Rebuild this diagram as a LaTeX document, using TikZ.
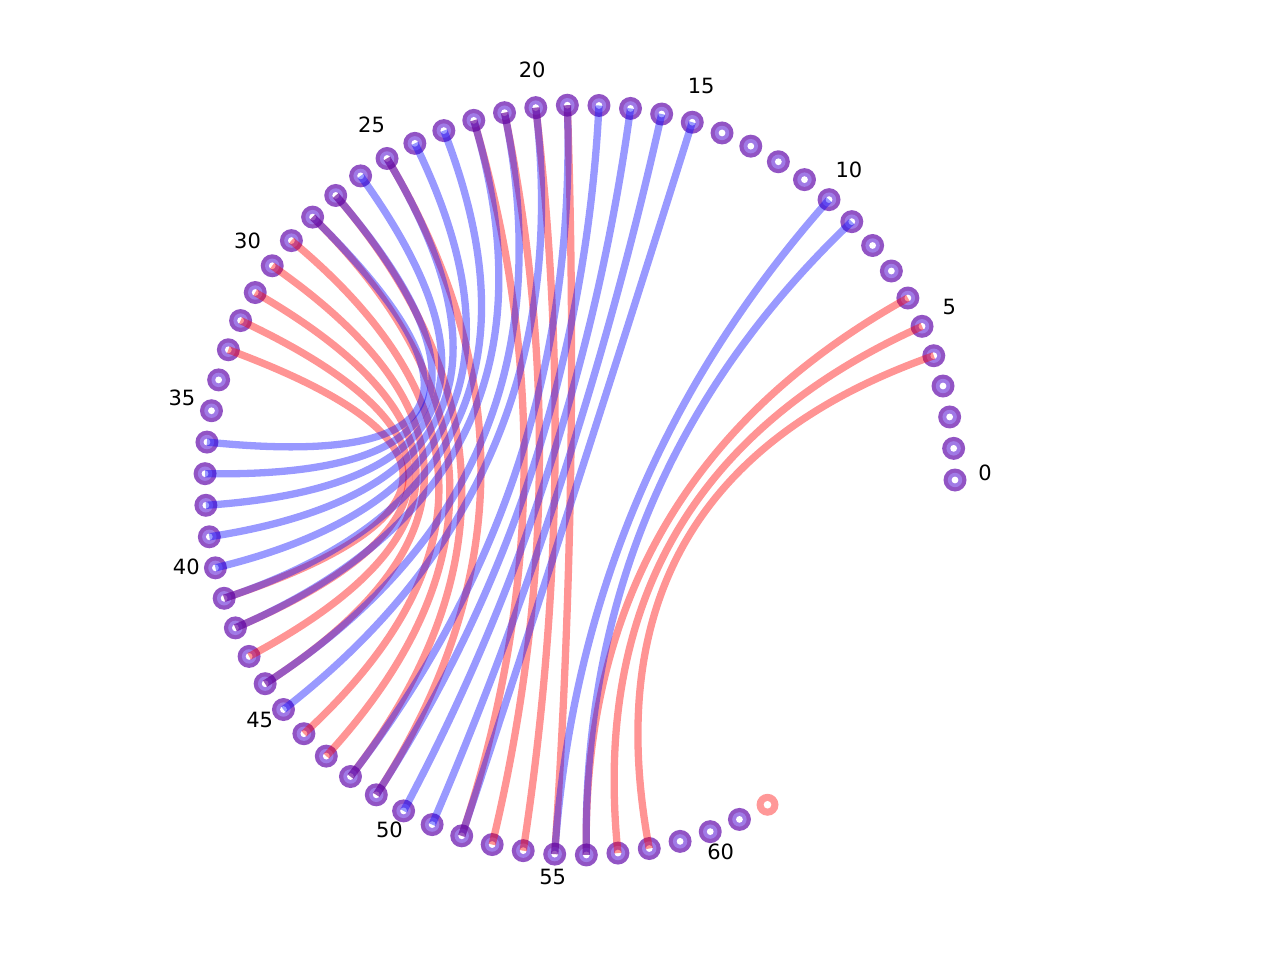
\documentclass[tikz,border=0pt]{standalone}
\usepackage{fontspec}
\setmainfont{DejaVu Sans}
\usetikzlibrary{calc}
\definecolor{nodeOuter}{RGB}{146,84,196}
\definecolor{nodeInner}{RGB}{160,122,230}
\definecolor{pinkNode}{RGB}{255,152,152}
\tikzset{
  redchord/.style={draw=red, draw opacity=0.42, line width=7.3, line cap=butt},
  bluechord/.style={draw=blue, draw opacity=0.4, line width=7.3, line cap=butt},
  lbl/.style={anchor=base, inner sep=0, font=\fontsize{21}{25}\selectfont}
}
\begin{document}
\begin{tikzpicture}[x=1pt,y=-1pt]
\useasboundingbox (0,0) rectangle (1280,960);
\coordinate (ctr) at (580,480);
\foreach \i in {0,...,62}{
  \pgfmathsetmacro\ang{\i*4.83871}
  \coordinate (n\i) at ({580+375*cos(\ang)},{480-375*sin(\ang)});
}
% node rings
\foreach \i in {0,...,61}{
  \fill[nodeOuter] (n\i) circle[radius=11.5];
  \fill[nodeInner] (n\i) circle[radius=7.2];
  \fill[white] (n\i) circle[radius=3.4];
}
\fill[pinkNode] (n62) circle[radius=11];
\fill[white] (n62) circle[radius=3.8];
% labels
\foreach \i in {0,5,...,60}{
  \pgfmathsetmacro\ang{\i*4.83871}
  \node[lbl] (l\i) at ({580+405*cos(\ang)},{480-405*sin(\ang)}) {\i};
}
% red chords
\foreach \a/\b in {4/58,5/57,6/56,33/41,32/42,31/43,30/44,29/46,28/47,27/48,25/49,22/52,21/53,20/54,19/55}{
  \draw[redchord] (n\a) .. controls ($(n\a)!0.6667!(ctr)$) and ($(n\b)!0.6667!(ctr)$) .. (n\b);
}
% blue chords
\foreach \a/\b in {10/55,9/56,28/36,27/37,26/38,25/39,24/40,23/41,22/42,21/44,20/45,19/48,18/49,17/50,16/51,15/52}{
  \draw[bluechord] (n\a) .. controls ($(n\a)!0.6667!(ctr)$) and ($(n\b)!0.6667!(ctr)$) .. (n\b);
}
\end{tikzpicture}
\end{document}
